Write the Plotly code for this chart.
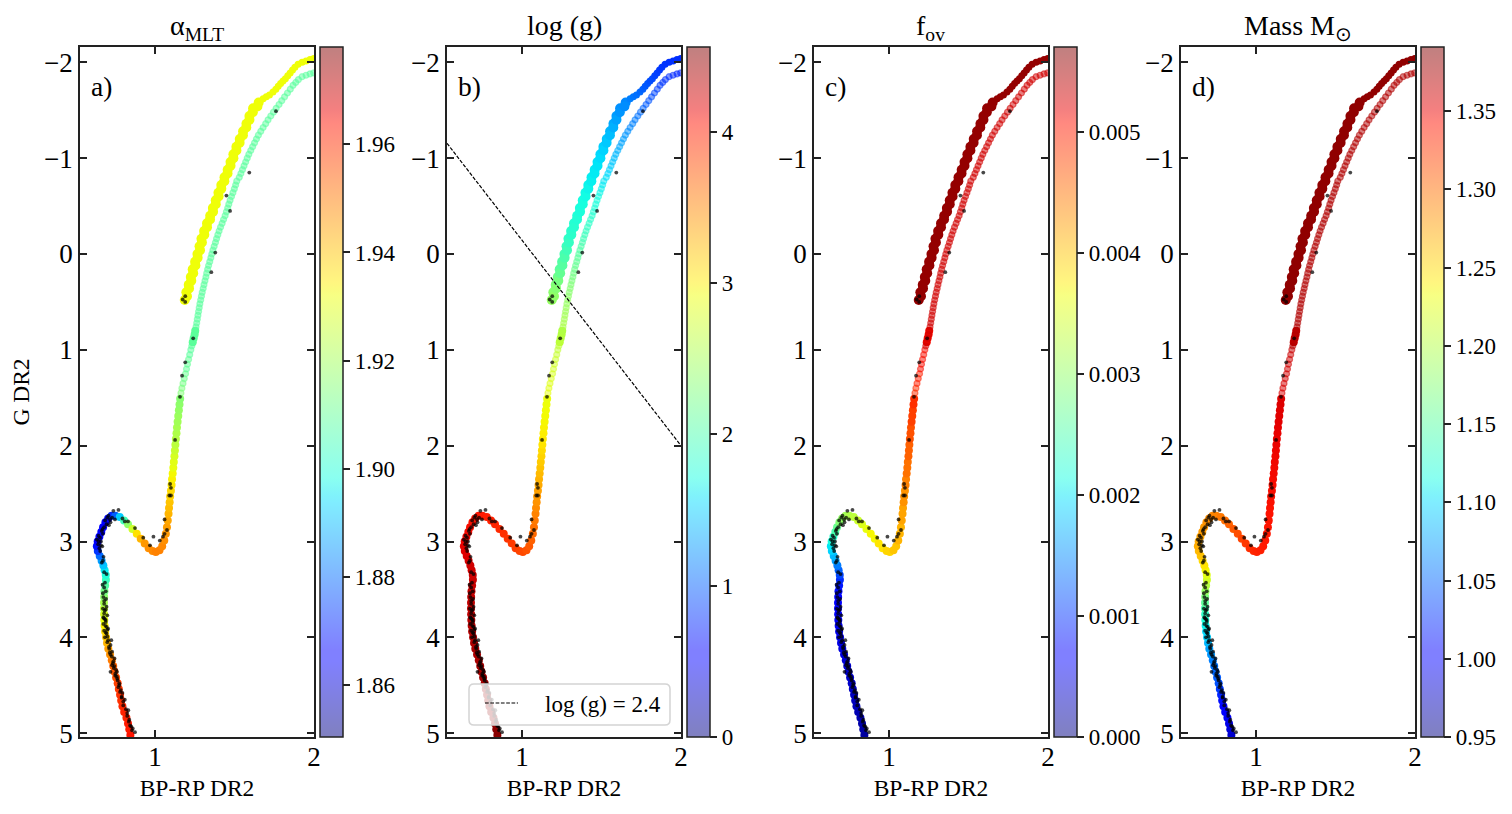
import plotly.graph_objects as go

# ---------- Data ----------
dense_x = [.845,.838,.83,.82,.806,.795,.787,.78,.772,.765,
 .755,.745,.737,.728,.717,.706,.698,.692,.686,.683,
 .681,.68,.679,.679,.68,.682,.686,.691,.69,.683,
 .675,.664,.652,.64,.634,.639,.65,.662,.673,.688,
 .705,.727,.75,.778,.805,.83,.858,.885,.91,.935,
 .96,.985,1.005,1.028,1.045,1.058,1.068,1.075,1.08,1.085,
 1.088,1.092,1.095,1.10,1.104,1.107,1.111,1.115,1.118,1.122,
 1.125,1.128,1.131,1.135,1.138,1.142,1.146,1.15,1.154,1.158,
 1.237,1.243,1.249,1.253]
dense_g = [5.02,4.96,4.90,4.84,4.78,4.72,4.66,4.60,4.54,4.48,
 4.42,4.36,4.30,4.24,4.18,4.12,4.06,4.00,3.94,3.88,
 3.82,3.76,3.70,3.64,3.58,3.52,3.46,3.40,3.35,3.30,
 3.25,3.20,3.15,3.10,3.05,3.00,2.95,2.90,2.85,2.80,
 2.76,2.73,2.73,2.745,2.78,2.82,2.87,2.92,2.97,3.02,
 3.07,3.10,3.11,3.09,3.05,2.99,2.92,2.85,2.78,2.71,
 2.65,2.59,2.53,2.47,2.41,2.35,2.29,2.23,2.17,2.11,
 2.05,1.99,1.93,1.87,1.81,1.75,1.69,1.63,1.57,1.51,
 .92,.88,.84,.80]
dense_alpha = [1.964,1.963,1.963,1.962,1.962,1.961,1.960,1.960,1.959,1.958,
 1.956,1.955,1.953,1.950,1.947,1.945,1.942,1.940,1.937,1.934,
 1.931,1.928,1.925,1.921,1.917,1.913,1.908,1.904,1.900,1.896,
 1.891,1.886,1.880,1.873,1.868,1.866,1.866,1.866,1.866,1.866,
 1.867,1.871,1.878,1.892,1.905,1.917,1.927,1.936,1.942,1.946,
 1.947,1.948,1.949,1.949,1.948,1.947,1.946,1.945,1.944,1.942,
 1.941,1.940,1.938,1.937,1.935,1.934,1.933,1.931,1.930,1.928,
 1.926,1.924,1.923,1.922,1.921,1.920,1.919,1.918,1.917,1.916,
 1.91,1.91,1.91,1.91]
dense_logg = [4.52,4.51,4.50,4.49,4.48,4.47,4.46,4.45,4.44,4.43,
 4.42,4.41,4.41,4.40,4.39,4.39,4.38,4.37,4.36,4.35,
 4.34,4.33,4.32,4.31,4.30,4.29,4.28,4.27,4.26,4.25,
 4.24,4.22,4.20,4.18,4.16,4.14,4.12,4.10,4.08,4.07,
 4.06,4.05,4.03,4.01,3.99,3.97,3.95,3.92,3.90,3.87,
 3.85,3.82,3.80,3.76,3.72,3.68,3.64,3.60,3.56,3.52,
 3.48,3.44,3.41,3.37,3.33,3.29,3.25,3.21,3.17,3.13,
 3.09,3.05,3.02,3.00,2.98,2.96,2.94,2.93,2.91,2.89,
 2.64,2.62,2.60,2.58]
dense_fov = [.00015,.00018,.00020,.00023,.00025,.00028,.0003,.00032,.00034,.00036,
 .00038,.0004,.00042,.00044,.00046,.00048,.0005,.00052,.00054,.00056,
 .00058,.0006,.00062,.00066,.0007,.00076,.00084,.00095,.0011,.00125,
 .0014,.0016,.00175,.0019,.002,.00215,.0023,.0025,.0027,.0029,
 .003,.0031,.0032,.0033,.0034,.0035,.0036,.0037,.0037,.0038,
 .0038,.0039,.0039,.004,.004,.0041,.0041,.0041,.0042,.0042,
 .0042,.0043,.0043,.0043,.0044,.0044,.0045,.0045,.0045,.0046,
 .0046,.0046,.0047,.0047,.0047,.0048,.0048,.0048,.0049,.0049,
 .0051,.0051,.0051,.0051]
dense_mass = [.98,.985,.99,.995,1.00,1.005,1.01,1.02,1.03,1.04,
 1.045,1.05,1.055,1.06,1.07,1.075,1.085,1.095,1.10,1.11,
 1.12,1.13,1.14,1.155,1.17,1.185,1.20,1.215,1.225,1.235,
 1.245,1.25,1.26,1.265,1.27,1.272,1.275,1.278,1.28,1.283,
 1.285,1.288,1.29,1.295,1.30,1.305,1.31,1.315,1.32,1.325,
 1.33,1.333,1.335,1.337,1.34,1.34,1.34,1.342,1.342,1.343,
 1.343,1.344,1.344,1.345,1.345,1.346,1.347,1.347,1.348,1.348,
 1.349,1.35,1.35,1.351,1.352,1.353,1.354,1.354,1.355,1.355,
 1.362,1.362,1.362,1.362]

ring_x = [1.163,1.169,1.176,1.184,1.192,1.198,1.204,1.211,1.218,1.225,
 1.231,1.237,1.243,1.249,1.253,1.258,1.262,1.266,1.27,1.274,
 1.278,1.282,1.287,1.292,1.297,1.303,1.308,1.314,1.32,1.325,
 1.331,1.337,1.344,1.351,1.357,1.364,1.372,1.38,1.387,1.395,
 1.403,1.412,1.422,1.431,1.441,1.449,1.457,1.464,1.472,1.481,
 1.49,1.499,1.507,1.514,1.53,1.54,1.55,1.56,1.57,1.58,
 1.59,1.602,1.614,1.626,1.638,1.65,1.665,1.68,1.696,1.711,
 1.728,1.745,1.762,1.78,1.797,1.815,1.833,1.851,1.868,1.885,
 1.902,1.925,1.95,1.975,1.998]
ring_g = [1.45,1.40,1.35,1.30,1.25,1.20,1.15,1.10,1.05,1.00,
 .96,.92,.88,.84,.80,.76,.72,.68,.64,.60,
 .56,.52,.48,.44,.40,.36,.32,.28,.24,.20,
 .16,.12,.08,.04,.00,-.04,-.08,-.12,-.16,-.20,
 -.24,-.28,-.32,-.36,-.40,-.44,-.48,-.52,-.56,-.60,
 -.64,-.68,-.72,-.76,-.80,-.84,-.88,-.92,-.96,-1.0,
 -1.04,-1.08,-1.12,-1.16,-1.20,-1.24,-1.28,-1.32,-1.36,-1.40,
 -1.44,-1.48,-1.52,-1.56,-1.60,-1.64,-1.68,-1.72,-1.76,-1.79,
 -1.82,-1.85,-1.865,-1.88,-1.89]
ring_logg = [2.87,2.85,2.83,2.81,2.79,2.77,2.75,2.73,2.70,2.68,
 2.66,2.64,2.62,2.60,2.58,2.56,2.54,2.52,2.50,2.48,
 2.46,2.43,2.41,2.38,2.36,2.33,2.31,2.28,2.25,2.22,
 2.19,2.16,2.13,2.10,2.07,2.04,2.01,1.98,1.95,1.92,
 1.89,1.87,1.85,1.83,1.81,1.79,1.77,1.75,1.73,1.71,
 1.68,1.65,1.63,1.6,1.58,1.55,1.52,1.49,1.46,1.43,
 1.4,1.37,1.34,1.31,1.28,1.25,1.22,1.19,1.16,1.13,
 1.09,1.05,1.02,.98,.95,.92,.89,.86,.83,.81,
 .79,.77,.75,.74,.73]
ring_alpha = [1.915,1.914,1.913,1.912,1.911,1.910,1.910,1.910,1.909,1.909] + [1.909] * 75
ring_fov = [.0049,.0049,.005,.005,.005,.0051,.0051,.0051,.0051,.0051] + [.0053] * 75
ring_mass = [1.356,1.357,1.358,1.358,1.359,1.36,1.36,1.361,1.362,1.362] + [1.372] * 75

agb_x = [1.187,1.197,1.212,1.225,1.237,1.252,1.267,1.28,1.292,1.309,1.327,1.347,1.364,1.382,
 1.399,1.417,1.437,1.457,1.475,1.493,1.512,1.533,1.554,1.575,1.594,1.617,1.652,
 1.201,1.214,1.228,1.24,1.254,1.268,1.283,1.295,1.31,1.327,1.346,1.365,1.382,
 1.40,1.417,1.436,1.456,1.475,1.493,1.512,1.532,1.553,1.574,1.594,1.615,1.644]
agb_g = [.48,.40,.32,.24,.16,.08,.00,-.08,-.16,-.24,-.32,-.40,-.48,-.56,
 -.64,-.72,-.80,-.88,-.96,-1.04,-1.12,-1.20,-1.28,-1.36,-1.44,-1.52,-1.58,
 .44,.36,.28,.20,.12,.04,-.04,-.12,-.20,-.28,-.36,-.44,-.52,
 -.60,-.68,-.76,-.84,-.92,-1.00,-1.08,-1.16,-1.24,-1.32,-1.40,-1.48,-1.54]
agb_logg = [2.42,2.36,2.3,2.2,2.1,2.05,1.98,1.92,1.86,1.83,1.8,1.77,1.74,1.72,
 1.69,1.66,1.63,1.61,1.58,1.54,1.5,1.45,1.39,1.33,1.27,1.22,1.18,
 2.39,2.33,2.25,2.15,2.07,2.01,1.95,1.89,1.84,1.81,1.78,1.75,1.73,
 1.7,1.67,1.64,1.62,1.59,1.56,1.52,1.47,1.42,1.36,1.3,1.24,1.2]
agb_alpha = [1.932] * 53
agb_fov = [.0056] * 53
agb_mass = [1.385] * 53

top_x = [1.68,1.70,1.72,1.742,1.76,1.775,1.79,1.805,1.82,1.835,1.85,1.865,1.88,1.90,1.925,1.95,1.975,1.998]
top_g = [-1.62,-1.64,-1.66,-1.69,-1.72,-1.75,-1.78,-1.805,-1.83,-1.86,-1.89,-1.92,-1.95,-1.98,-2.0,-2.015,-2.03,-2.04]
top_logg = [1.14,1.1,1.07,1.04,1.0,.97,.95,.92,.9,.87,.85,.83,.81,.8,.79,.78,.78,.77]
top_alpha = [1.932] * 18
top_fov = [.0056] * 18
top_mass = [1.385] * 18

star_x = [.874,.843,.85,.838,.832,.817,.80,.81,.79,.795,.785,.77,.765,.775,.75,.74,.755,.73,.745,.72,
 .735,.72,.72,.705,.725,.695,.685,.705,.69,.675,.70,.68,.672,.695,.68,.672,.69,.685,.695,.68,
 .672,.676,.65,.634,.645,.654,.665,.68,.672,.695,.686,.717,.707,.738,.77,.748,.795,.83,.81,.874,
 .926,.968,.99,1.03,1.05,1.06,1.075,1.06,1.09,1.10,1.10,1.095,
 1.126,1.157,1.17,1.19,1.24,1.354,1.379,1.472,1.449,1.593,1.761,1.19,1.174,1.19,
 .86,.825,.78,.76,.745,.728,.712,.70,.688,.678,.683,.692,.675,.68,.668,.66,.655,.642,.70,.69,.72,.73,
 .855,.835,.825,.80,.79,.775,.762,.75,.76,.738,.715,.73,.71,.70,.68,.69,.695,.685,.675,.69,.68,.67,.665,.645,.66,.67,.71,.70]
star_g = [4.99,4.92,4.93,4.86,4.76,4.75,4.67,4.65,4.62,4.58,4.55,4.52,4.45,4.48,4.38,4.32,4.34,4.29,4.22,4.18,
 4.27,4.36,4.08,4.03,4.03,3.96,4.0,3.91,3.84,3.86,3.77,3.75,3.70,3.68,3.65,3.54,3.52,3.43,3.34,3.32,
 3.2,3.16,3.07,2.98,2.94,2.96,2.89,2.85,2.92,2.82,2.78,2.77,2.73,2.68,2.67,2.77,2.76,2.79,2.79,2.86,
 2.96,3.04,2.95,2.99,2.95,2.92,2.88,2.77,2.52,2.52,2.44,2.40,
 1.94,1.49,1.27,1.13,.88,.19,-.015,-.45,-.61,-.85,-1.49,.44,.475,.50,
 4.95,4.82,4.57,4.41,4.3,4.2,4.12,3.99,3.88,3.8,3.72,3.6,3.58,3.48,3.05,3.0,3.1,3.03,3.92,3.82,2.8,2.75,
 4.97,4.88,4.79,4.71,4.63,4.50,4.43,4.40,4.36,4.25,4.16,4.15,4.10,4.05,3.93,3.95,3.89,3.81,3.79,3.71,3.62,3.45,3.22,3.0,3.04,2.87,2.83,2.75]

line_x = [0.528, 2.0]
line_g = [-1.155, 2.0]

x_ticks = [1, 2]
g_ticks = [-2, -1, 0, 1, 2, 3, 4, 5]
alpha_ticks = [1.86, 1.88, 1.90, 1.92, 1.94, 1.96]
logg_ticks = [0, 1, 2, 3, 4]
fov_ticks = [0.000, 0.001, 0.002, 0.003, 0.004, 0.005]
mass_ticks = [0.95, 1.00, 1.05, 1.10, 1.15, 1.20, 1.25, 1.30, 1.35]

panel_titles = ["α<sub>MLT</sub>", "log (g)", "f<sub>ov</sub>", "Mass M<sub>⊙</sub>"]
panel_letters = ["a)", "b)", "c)", "d)"]
x_title = "BP-RP DR2"
y_title = "G DR2"
legend_label = "log (g) = 2.4"

# ---------- Styles and layout ----------
W, H = 1512, 814
FONT = "Liberation Serif"
INK = "#222222"
JET = [(0, (0, 0, 128)), (.11, (0, 0, 255)), (.125, (0, 0, 255)), (.34, (0, 219, 255)),
       (.35, (0, 230, 247)), (.375, (21, 255, 226)), (.64, (239, 255, 8)), (.65, (247, 246, 0)),
       (.66, (255, 236, 0)), (.89, (255, 19, 0)), (.91, (232, 0, 0)), (1, (128, 0, 0))]


def scale(a):
    return [[p, f"rgba({c[0]},{c[1]},{c[2]},{a})"] for p, c in JET]


def px(v):
    return v / W


def py(v):
    return 1 - v / H


panel_left = [80, 447, 814, 1181]
title_bottom = [47, 43, 47, 47]
panel_w = 234
top, bottom = 47, 737

panels = [
    (dense_alpha, ring_alpha, agb_alpha, top_alpha, 1.8504, 1.978, alpha_ticks, "%.2f"),
    (dense_logg, ring_logg, agb_logg, top_logg, 0, 4.56, logg_ticks, "%d"),
    (dense_fov, ring_fov, agb_fov, top_fov, 0, 0.0057, fov_ticks, "%.3f"),
    (dense_mass, ring_mass, agb_mass, top_mass, 0.95, 1.391, mass_ticks, "%.2f"),
]

fig = go.Figure()
layout = dict(width=W, height=H, margin=dict(l=0, r=0, t=0, b=0, autoexpand=False), paper_bgcolor="white",
              plot_bgcolor="white", showlegend=False, font=dict(family=FONT, color="black"))
annotations = []

for i, (d_c, r_c, a_c, t_c, cmin, cmax, cticks, fmt) in enumerate(panels):
    n = i + 1
    sx = "" if i == 0 else str(n)
    xa, ya = "x" + sx, "y" + sx
    ca = "coloraxis" + sx
    left = panel_left[i]
    common = dict(xaxis=xa, yaxis=ya, mode="markers", hoverinfo="skip", showlegend=False)
    fig.add_trace(go.Scatter(x=dense_x, y=dense_g, marker=dict(size=8, color=d_c, cmin=cmin, cmax=cmax,
                  colorscale=scale(1), showscale=False, line=dict(width=0)), **common))
    fig.add_trace(go.Scatter(x=ring_x, y=ring_g, marker=dict(size=6, color=r_c, coloraxis=ca,
                  line=dict(width=1.2, color=r_c, coloraxis=ca)), **common))
    fig.add_trace(go.Scatter(x=agb_x, y=agb_g, marker=dict(size=10, color=a_c, cmin=cmin, cmax=cmax,
                  colorscale=scale(1), showscale=False, line=dict(width=0)), **common))
    fig.add_trace(go.Scatter(x=top_x, y=top_g, marker=dict(size=7, color=t_c, cmin=cmin, cmax=cmax,
                  colorscale=scale(1), showscale=False, line=dict(width=0)), **common))
    fig.add_trace(go.Scatter(x=star_x, y=star_g, marker=dict(size=3.8, color="rgba(0,0,0,0.72)",
                  line=dict(width=0)), **common))
    if i == 1:
        fig.add_trace(go.Scatter(x=line_x, y=line_g, xaxis=xa, yaxis=ya, mode="lines", hoverinfo="skip",
                      line=dict(color="black", width=1.2, dash="3.7px,1.6px"), showlegend=False))

    axis = dict(anchor=None, mirror="allticks", showline=True, linecolor=INK, linewidth=1.5, ticks="inside",
                ticklen=7, tickwidth=1.5, tickcolor=INK, showgrid=False, zeroline=False,
                tickfont=dict(family=FONT, size=27, color="black"))
    layout["xaxis" + sx] = dict(axis, anchor=ya, domain=[px(left), px(left + panel_w)], range=[0.528, 2.0],
                                tickvals=x_ticks, ticklabelstandoff=-5,
                                title=dict(text=x_title, standoff=8,
                                font=dict(family=FONT, size=23.5, color="black")))
    y_ax = dict(axis, anchor=xa, domain=[py(bottom), py(top)], range=[5.04, -2.16], tickvals=g_ticks)
    if i == 0:
        y_ax["title"] = dict(text=y_title, standoff=8, font=dict(family=FONT, size=23.5, color="black"))
    layout["yaxis" + sx] = y_ax
    layout[ca] = dict(cmin=cmin, cmax=cmax, colorscale=scale(0.5), colorbar=dict(
        x=px(left + panel_w + 6), xanchor="left", xpad=0, y=py(bottom), yanchor="bottom", ypad=0,
        len=(bottom - top) / H, lenmode="fraction", thickness=23, thicknessmode="pixels",
        outlinecolor=INK, outlinewidth=1.5, tickmode="array", tickvals=cticks,
        ticktext=[fmt % v for v in cticks], ticks="outside", ticklen=7, tickwidth=1.5, tickcolor=INK,
        tickfont=dict(family=FONT, size=23, color="black")))
    annotations.append(dict(text=panel_titles[i], xref="paper", yref="paper", x=px(left + panel_w / 2),
                            y=py(title_bottom[i]), xanchor="center", yanchor="bottom", showarrow=False,
                            font=dict(family=FONT, size=28, color="black")))
    annotations.append(dict(text=panel_letters[i], xref="paper", yref="paper", x=px(left + 9), y=py(86),
                            xanchor="left", yanchor="middle", showarrow=False,
                            font=dict(family=FONT, size=27.5, color="black")))

# Legend box of panel b
bx0, bx1, by0, by1, rad = 469, 670, 684, 725, 5
box = (f"M {px(bx0 + rad)} {py(by0)} L {px(bx1 - rad)} {py(by0)} Q {px(bx1)} {py(by0)} {px(bx1)} {py(by0 + rad)} "
       f"L {px(bx1)} {py(by1 - rad)} Q {px(bx1)} {py(by1)} {px(bx1 - rad)} {py(by1)} "
       f"L {px(bx0 + rad)} {py(by1)} Q {px(bx0)} {py(by1)} {px(bx0)} {py(by1 - rad)} "
       f"L {px(bx0)} {py(by0 + rad)} Q {px(bx0)} {py(by0)} {px(bx0 + rad)} {py(by0)} Z")
layout["shapes"] = [
    dict(type="path", path=box, xref="paper", yref="paper", fillcolor="rgba(255,255,255,0.8)",
         line=dict(color="#d4d4d4", width=1.5), layer="above"),
    dict(type="line", xref="paper", yref="paper", x0=px(485), x1=px(518), y0=py(703), y1=py(703),
         line=dict(color="black", width=1.2, dash="3.7px,1.6px"), layer="above"),
]
annotations.append(dict(text=legend_label, xref="paper", yref="paper", x=px(543), y=py(704), xanchor="left",
                        yanchor="middle", showarrow=False, font=dict(family=FONT, size=23, color="black")))
layout["annotations"] = annotations
fig.update_layout(**layout)
fig.write_html("out.html", config={"displayModeBar": False},
               post_script="document.documentElement.style.overflow='hidden';"
                           "document.body.style.overflow='hidden';document.body.style.margin='0';")
